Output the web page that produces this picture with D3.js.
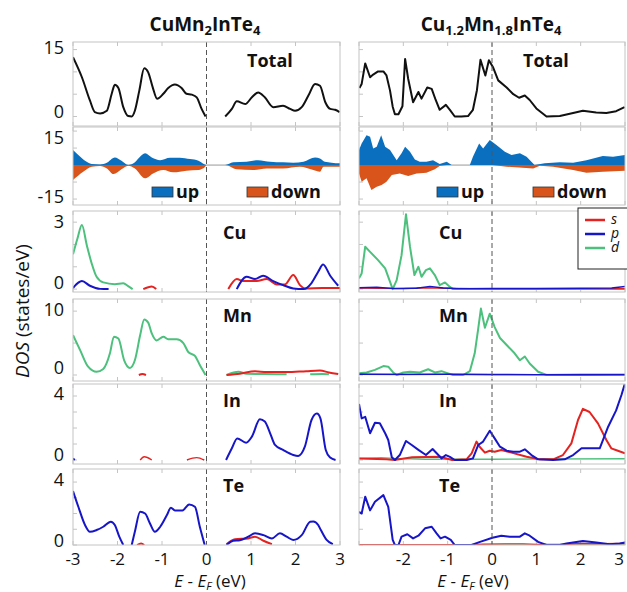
<!DOCTYPE html>
<html>
<head>
<meta charset="utf-8">
<script src="https://cdn.jsdelivr.net/npm/d3@7"></script>
<style>
  body { margin: 0; background: #fff; }
  text { font-family: 'Open Sans', 'Noto Sans', sans-serif; fill: #111; }
</style>
</head>
<body>
<svg id="fig" width="627" height="592"></svg>
<script>
// ---------- energy axis (eV, relative to E_F) ----------
const energyTicksA = [-3, -2, -1, 0, 1, 2, 3];
const energyTicksB = [-2, -1, 0, 1, 2, 3];

// ---------- compound titles: [text, subscript] ----------
const titleA = [["Cu", ""], ["Mn", "2"], ["InTe", "4"]];
const titleB = [["Cu", "1.2"], ["Mn", "1.8"], ["InTe", "4"]];

// ---------- element rows ----------
const elements = ["Cu", "Mn", "In", "Te"];

// ---------- total DOS [E, DOS] ; null marks a break ----------
const totalA = [[-3.0,13.3],[-2.8,8.8],[-2.62,3.6],[-2.51,1.0],[-2.39,0.7],[-2.24,1.3],[-2.13,5.1],[-2.06,7.1],[-1.98,6.4],[-1.87,2.1],[-1.76,0.1],[-1.68,0],[-1.61,1.3],[-1.51,5.8],[-1.40,10.8],[-1.31,9.9],[-1.21,6.6],[-1.11,4.0],[-0.97,5.1],[-0.86,6.4],[-0.71,7.2],[-0.56,6.4],[-0.45,5.1],[-0.33,4.9],[-0.22,4.3],[-0.11,1.7],[-0.02,0],[0.2,null],[0.42,0],[0.57,1.7],[0.68,3.4],[0.87,2.8],[1.02,4.3],[1.16,5.4],[1.31,4.3],[1.50,2.1],[1.72,2.4],[1.88,1.7],[1.99,1.3],[2.14,2.1],[2.29,4.7],[2.44,7.3],[2.55,6.9],[2.67,3.2],[2.78,1.7],[2.89,1.5],[2.99,1.0]];
const totalB = [[-2.99,6.4],[-2.94,7.3],[-2.86,11.9],[-2.75,8.8],[-2.68,9.4],[-2.57,10.1],[-2.45,10.1],[-2.38,9.2],[-2.30,5.8],[-2.24,2.2],[-2.19,0.5],[-2.11,0.5],[-2.02,2.3],[-1.96,12.9],[-1.89,8.4],[-1.78,3.2],[-1.66,5.5],[-1.59,4.0],[-1.46,6.5],[-1.36,6.2],[-1.27,3.7],[-1.18,1.5],[-1.04,2.6],[-0.95,1.5],[-0.84,0],[-0.69,0],[-0.54,0.1],[-0.43,1.5],[-0.34,5.9],[-0.26,12.7],[-0.15,9.2],[-0.07,12.6],[0.02,11.1],[0.14,8.1],[0.33,6.5],[0.48,5.0],[0.61,4.2],[0.74,4.7],[0.85,3.7],[1.00,1.8],[1.23,0],[1.53,0.1],[1.83,0.8],[2.05,1.3],[2.35,0.9],[2.58,0.8],[2.80,1.2],[2.99,2.1]];

// ---------- spin-resolved DOS (down stored negative) ----------
const spinUpA = [[-3.0,8.8],[-2.88,5.9],[-2.73,2.5],[-2.58,0.6],[-2.39,0.4],[-2.24,1.4],[-2.06,4.5],[-1.91,2.5],[-1.76,0],[-1.64,1.0],[-1.51,4.5],[-1.38,6.9],[-1.23,4.5],[-1.04,2.9],[-0.82,4.3],[-0.60,4.3],[-0.37,3.5],[-0.18,2.5],[-0.06,0.6],[0,0],[0.42,0],[0.60,1.6],[0.90,2.0],[1.16,2.9],[1.43,2.0],[1.72,1.6],[1.95,1.4],[2.18,2.0],[2.44,4.5],[2.55,3.9],[2.66,1.9],[2.81,1.4],[3.0,1.0]];
const spinDnA = [[-3.0,-8.8],[-2.77,-3.9],[-2.58,-1.0],[-2.39,-0.6],[-2.24,-2.0],[-2.09,-5.3],[-1.91,-2.5],[-1.76,-0.4],[-1.61,-2.0],[-1.38,-7.8],[-1.20,-4.9],[-0.97,-2.9],[-0.75,-4.3],[-0.45,-3.3],[-0.18,-2.9],[-0.03,-1.0],[0,0],[0.42,0],[0.68,-2.5],[1.05,-2.9],[1.35,-2.0],[1.72,-2.0],[2.10,-1.0],[2.40,-2.9],[2.55,-3.9],[2.63,-1.0],[3.0,-1.0]];
const spinUpB = [[-3.0,8.8],[-2.94,12.7],[-2.83,17.6],[-2.75,16.6],[-2.68,9.8],[-2.60,10.8],[-2.50,17.6],[-2.41,10.8],[-2.30,8.8],[-2.15,2.9],[-2.04,6.9],[-1.96,10.8],[-1.85,7.8],[-1.74,3.3],[-1.63,2.0],[-1.48,2.0],[-1.33,2.9],[-1.18,0.6],[-1.02,2.0],[-0.91,0],[-0.50,0],[-0.43,4.9],[-0.29,12.7],[-0.20,9.8],[-0.05,14.7],[0.10,11.8],[0.29,7.8],[0.44,5.9],[0.63,6.9],[0.78,4.9],[0.96,0],[1.19,1.0],[1.53,1.6],[1.83,1.4],[2.13,2.9],[2.50,5.3],[2.73,4.9],[3.0,5.9]];
const spinDnB = [[-3.0,-4.9],[-2.94,-9.8],[-2.83,-7.8],[-2.72,-14.7],[-2.60,-12.7],[-2.49,-11.8],[-2.38,-9.8],[-2.26,-5.9],[-2.08,-4.9],[-1.89,-6.5],[-1.70,-4.9],[-1.48,-4.5],[-1.29,-2.5],[-1.18,-0.6],[-1.02,0],[0.0,0],[0.33,-1.0],[0.93,-2.0],[1.08,-0.4],[1.38,-1.0],[1.83,-2.9],[2.13,-4.5],[2.50,-3.9],[3.0,-3.3]];

// ---------- projected DOS, CuMn2InTe4 ----------
const cuA_s = [[-1.42,0],[-1.23,0.12],[-1.13,0],[0,null],[0.49,0],[0.68,0.45],[0.83,0.36],[1.13,0.36],[1.35,0.45],[1.58,0.21],[1.76,0.21],[1.95,0.63],[2.10,0.18],[2.21,0.03],[2.6,0.05],[3,0.05]];
const cuA_p = [[-3.0,0.05],[-2.80,0.36],[-2.62,0.15],[-2.39,0.01],[-2.2,0],[0,null],[0.68,0],[0.90,0.55],[1.09,0.45],[1.27,0.6],[1.50,0.36],[1.72,0.18],[1.95,0.03],[2.18,0],[2.36,0.27],[2.51,0.78],[2.62,1.1],[2.78,0.6],[2.96,0.15]];
const cuA_d = [[-3.0,1.56],[-2.90,2.27],[-2.80,2.87],[-2.69,1.97],[-2.58,1.15],[-2.47,0.55],[-2.32,0.30],[-2.06,0.22],[-1.87,0.26],[-1.76,0.13],[-1.66,0]];
const mnA_s = [[-1.52,0],[-1.44,0.15],[-1.36,0],[0,null],[0.45,0],[0.75,0.2],[1.09,0.6],[1.35,0.45],[1.8,0.45],[2.24,0.6],[2.55,0.7],[2.75,0.4],[2.96,0.15]];
const mnA_d = [[-3.0,6.25],[-2.84,3.9],[-2.66,1.3],[-2.47,0.5],[-2.32,0.94],[-2.17,3.4],[-2.08,6.0],[-1.98,5.7],[-1.85,2.3],[-1.72,1.1],[-1.61,2.3],[-1.49,6.25],[-1.40,8.7],[-1.31,8.2],[-1.23,6.5],[-1.12,5.4],[-0.97,6.0],[-0.86,5.6],[-0.67,5.6],[-0.52,5.0],[-0.41,3.6],[-0.26,3.0],[-0.15,1.56],[-0.02,0],[0.2,null],[0.45,0],[0.72,0.5],[0.9,0.2],[1.3,0.15],[1.8,0.1],[2.0,null],[2.33,0.1],[2.6,0.15],[2.75,0.1]];
const inA_s = [[-1.49,0],[-1.40,0.2],[-1.23,0],[-1.0,null],[-0.44,0],[-0.22,0.15],[-0.05,0]];
const inA_p = [[-3.0,0.1],[-2.96,0],[0,null],[0.44,0],[0.57,0.73],[0.69,1.35],[0.89,1.08],[1.02,1.46],[1.20,2.54],[1.31,2.4],[1.43,1.67],[1.54,0.94],[1.72,0.63],[1.95,0.31],[2.06,0.25],[2.21,0.83],[2.36,2.5],[2.48,2.9],[2.56,2.6],[2.68,0.63],[2.78,0.15],[2.9,0]];
const teA_s = [[-1.56,0],[-1.47,0.1],[-1.40,0],[0,null],[0.45,0.05],[0.64,0.37],[0.94,0.42],[1.09,0.53],[1.28,0.27],[1.47,0.05]];
const teA_p = [[-3.0,3.43],[-2.88,2.43],[-2.73,1.27],[-2.62,0.84],[-2.47,0.95],[-2.32,1.16],[-2.15,1.48],[-2.06,1.27],[-1.96,0.53],[-1.87,0],[-1.78,null],[-1.68,0],[-1.61,0.84],[-1.49,2.11],[-1.38,2.0],[-1.27,1.37],[-1.16,0.84],[-1.04,1.16],[-0.89,1.9],[-0.80,2.37],[-0.71,2.2],[-0.54,2.2],[-0.39,2.58],[-0.26,2.43],[-0.15,1.16],[-0.04,0],[0.2,null],[0.45,0],[0.60,0.27],[0.75,0.3],[0.94,0.53],[1.09,0.74],[1.28,0.63],[1.47,0.42],[1.65,0.74],[1.80,0.53],[1.95,0.32],[2.14,0.63],[2.33,1.48],[2.40,1.5],[2.51,1.27],[2.57,0.95],[2.70,0.32],[2.84,0.05]];

// ---------- projected DOS, Cu1.2Mn1.8InTe4 ----------
const cuB_s = [[-3,0.05],[-2.5,0.04],[-2,0.03],[-1.5,0.06],[-1,0.04],[-0.5,0.02],[3,0.02]];
const cuB_p = [[-3,0.06],[-2.6,0.08],[-2.2,0.02],[-1.7,0.04],[-1.4,0.12],[-1.1,0.05],[-0.8,0.02],[0,0.03],[1,0.03],[2,0.04],[2.7,0.05],[3,0.12]];
const cuB_d = [[-3.0,0.48],[-2.94,0.7],[-2.86,1.9],[-2.75,1.67],[-2.57,1.3],[-2.41,0.93],[-2.24,0],[-2.15,0.4],[-2.04,1.52],[-1.94,3.35],[-1.85,1.9],[-1.75,0.63],[-1.66,1.0],[-1.59,0.55],[-1.49,0.85],[-1.40,0.93],[-1.29,0.63],[-1.18,0.18],[-1.06,0.3],[-0.95,0.1],[-0.88,0],[3.0,0]];
const mnB_s = [[-3,0.1],[-2,0.08],[-1,0.1],[0,0.06],[1.2,0.05],[3,0.04]];
const mnB_p = [[-3,0.12],[-2,0.1],[-1,0.12],[0,0.08],[1,0.06],[2,0.08],[3,0.1]];
const mnB_d = [[-3.0,0.26],[-2.83,0.4],[-2.64,0.8],[-2.45,1.4],[-2.34,1.3],[-2.23,0.4],[-2.15,0],[-2.0,0.4],[-1.85,0.5],[-1.63,0.4],[-1.44,0.9],[-1.29,0.4],[-1.14,0.6],[-0.99,0.26],[-0.88,0],[-0.65,0],[-0.50,0.6],[-0.39,3.4],[-0.31,7.3],[-0.25,10.4],[-0.16,7.4],[-0.05,9.6],[0.06,7.5],[0.18,5.8],[0.33,4.7],[0.51,3.4],[0.63,2.3],[0.74,2.9],[0.85,1.8],[1.04,0.5],[1.23,0],[3.0,0]];
const inB_s = [[-3.0,0.1],[-2.38,0.05],[-2.2,0],[-1.8,0.17],[-1.17,0.2],[-0.9,0],[-0.57,0.05],[-0.46,0.42],[-0.35,1.15],[-0.28,0.83],[-0.16,0.46],[-0.05,0.58],[0.06,0.52],[0.21,0.63],[0.44,0.46],[0.78,0.2],[1.08,0.04],[1.38,0.04],[1.60,0.31],[1.79,1.04],[1.94,2.5],[2.05,3.2],[2.20,3.0],[2.39,2.29],[2.58,1.25],[2.69,0.73],[2.84,0.58],[3.0,0.42]];
const inB_p = [[-3.0,3.5],[-2.94,2.6],[-2.86,2.7],[-2.75,1.67],[-2.64,2.33],[-2.53,2.3],[-2.41,1.67],[-2.34,1.25],[-2.26,0.17],[-2.19,0],[-2.08,0.31],[-1.94,1.19],[-1.81,0.94],[-1.66,0.63],[-1.49,0.31],[-1.34,0.69],[-1.21,0.31],[-1.14,0.1],[-1.04,0.31],[-0.95,0.2],[-0.84,0],[-0.57,0],[-0.43,0.1],[-0.31,0.94],[-0.20,1.15],[-0.05,1.83],[0.06,1.35],[0.18,0.83],[0.33,0.58],[0.48,0.52],[0.63,0.52],[0.74,0.67],[0.89,0.31],[1.04,0.04],[1.38,0],[1.64,0.04],[1.83,0.31],[2.02,0.73],[2.43,0.73],[2.62,2.08],[2.80,3.1],[2.92,4.06],[3.0,4.8]];
const inB_d = [[-3,0.1],[-2.5,0.15],[-2.2,0.1],[-1.5,0.05],[0,0.05],[3,0.08]];
const teB_s = [[-3,0.02],[-0.5,0.02],[-0.2,0.05],[0.3,0.07],[0.7,0.07],[1.0,0.04],[1.6,0.03],[2.0,0.1],[2.4,0.08],[3,0.1]];
const teB_p = [[-3.0,2.1],[-2.94,2.0],[-2.86,3.07],[-2.75,2.2],[-2.64,2.75],[-2.45,3.17],[-2.34,2.43],[-2.24,0.32],[-2.19,0],[-2.11,0],[-2.04,0.53],[-1.91,0.68],[-1.78,0.42],[-1.66,0.59],[-1.51,1.06],[-1.36,1.16],[-1.25,0.74],[-1.16,0.42],[-1.06,0.53],[-0.93,0.32],[-0.84,0],[-0.46,0],[-0.27,0.2],[0.01,0.46],[0.21,0.59],[0.40,0.53],[0.63,0.53],[0.74,0.74],[0.85,0.59],[1.04,0.2],[1.23,0],[1.53,0],[1.68,0.1],[2.05,0.25],[2.35,0.16],[2.65,0.05],[2.88,0.1],[3.0,0.16]];
const teB_d = [[-3,0.01],[3,0.01]];

// ---------- legend entries ----------
const spinLabels = ["up", "down"];
const orbitals = ["s", "p", "d"];

// ---------- styling ----------
const orbitalColor = { s: "#e42320", p: "#1616c8", d: "#4cc07c" };
const spinColor = { up: "#0b6fbf", down: "#d9541a" };
const frameColor = "#c4c4c4";

// ---------- layout ----------
const columns = [
  { x0: 73, x1: 340, title: titleA, titleX: 205, ticks: energyTicksA, xlabelX: 210, curve: d3.curveMonotoneX,
    total: totalA, up: spinUpA, down: spinDnA,
    pdos: { Cu: { s: cuA_s, p: cuA_p, d: cuA_d }, Mn: { s: mnA_s, d: mnA_d }, In: { s: inA_s, p: inA_p }, Te: { s: teA_s, p: teA_p } },
    labelX: 223, totalX: 247, legUp: 152, legDown: 247 },
  { x0: 359, x1: 625, title: titleB, titleX: 491, ticks: energyTicksB, xlabelX: 473, curve: d3.curveLinear,
    total: totalB, up: spinUpB, down: spinDnB,
    pdos: { Cu: { s: cuB_s, p: cuB_p, d: cuB_d }, Mn: { s: mnB_s, p: mnB_p, d: mnB_d }, In: { s: inB_s, p: inB_p, d: inB_d }, Te: { s: teB_s, p: teB_p, d: teB_d } },
    labelX: 439, totalX: 523, legUp: 437, legDown: 533 }
];

// rows: pixel extent, value domain, labelled ticks, nudges for those labels, label baseline
const rows = [
  { key: "Total", top: 42,  bottom: 126, domain: [-2.13, 16.7], ticks: [0, 15],   nudge: [-4.5, -1.5], labelY: 67 },
  { key: "spin",  top: 127, bottom: 205, domain: [-23.5, 22.4], ticks: [-15, 15], nudge: [6, -2] },
  { key: "Cu",    top: 211, bottom: 292, domain: [-0.13, 3.5],  ticks: [0, 3],    nudge: [-6, 0],  labelY: 239 },
  { key: "Mn",    top: 299, bottom: 381, domain: [-0.94, 11.9], ticks: [0, 10],   nudge: [-7, -1], labelY: 322 },
  { key: "In",    top: 384, bottom: 464, domain: [-0.25, 4.75], ticks: [0, 4],    nudge: [-5, -2], labelY: 407 },
  { key: "Te",    top: 469, bottom: 545, domain: [0, 4.83],     ticks: [0, 4],    nudge: [-4, -2], labelY: 492 }
];

const svg = d3.select("#fig");
const defs = svg.append("defs");
let clipId = 0;

columns.forEach((col, ci) => {
  const x = d3.scaleLinear().domain([-3, 3]).range([col.x0, col.x1]);

  // compound title with subscripts
  const t = svg.append("text").attr("x", col.titleX).attr("y", 31)
    .attr("text-anchor", "middle").attr("font-size", 19).attr("font-weight", "bold");
  col.title.forEach(([main, sub], k) => {
    t.append("tspan").attr("dy", k > 0 && col.title[k - 1][1] ? -4 : 0).text(main);
    if (sub) t.append("tspan").attr("font-size", 13).attr("dy", 4).text(sub);
  });

  rows.forEach((row, ri) => {
    const y = d3.scaleLinear().domain(row.domain).range([row.bottom, row.top]);
    const g = svg.append("g");
    const cid = "clip" + (clipId++);
    defs.append("clipPath").attr("id", cid).append("rect")
      .attr("x", col.x0).attr("y", row.top).attr("width", col.x1 - col.x0).attr("height", row.bottom - row.top);

    // faint inward ticks
    col.ticks.concat(ci === 1 ? [-3] : []).forEach(e => {
      g.append("line").attr("x1", x(e)).attr("x2", x(e)).attr("y1", row.top).attr("y2", row.top + 4)
        .attr("stroke", frameColor).attr("stroke-width", 1);
      g.append("line").attr("x1", x(e)).attr("x2", x(e)).attr("y1", row.bottom).attr("y2", row.bottom - 4)
        .attr("stroke", frameColor).attr("stroke-width", 1);
    });
    y.ticks(4).forEach(v => {
      g.append("line").attr("x1", col.x0).attr("x2", col.x0 + 4).attr("y1", y(v)).attr("y2", y(v))
        .attr("stroke", frameColor).attr("stroke-width", 1);
    });

    const plot = g.append("g").attr("clip-path", `url(#${cid})`);

    if (row.key === "Total") {
      plot.append("path").datum(col.total)
        .attr("d", d3.line().defined(d => d[1] != null).x(d => x(d[0])).y(d => y(d[1])).curve(col.curve))
        .attr("fill", "none").attr("stroke", "#111").attr("stroke-width", 2).attr("stroke-linejoin", "round");
    } else if (row.key === "spin") {
      plot.append("line").attr("x1", col.x0).attr("x2", col.x1).attr("y1", y(0)).attr("y2", y(0))
        .attr("stroke", "#999").attr("stroke-width", 1);
      [["up", col.up], ["down", col.down]].forEach(([k, arr]) => {
        plot.append("path").datum(arr)
          .attr("d", d3.area().x(d => x(d[0])).y0(y(0)).y1(d => y(d[1])).curve(col.curve))
          .attr("fill", spinColor[k]);
      });
    } else {
      const set = col.pdos[row.key];
      ["d", "s", "p"].forEach(o => {
        const arr = set[o];
        if (!arr) return;
        const peak = d3.max(arr, d => d[1]);
        plot.append("path").datum(arr)
          .attr("d", d3.line().defined(d => d[1] != null).x(d => x(d[0])).y(d => y(d[1])).curve(col.curve))
          .attr("fill", "none").attr("stroke", orbitalColor[o])
          .attr("stroke-width", peak < 0.3 ? 1.4 : 2).attr("stroke-linejoin", "round");
      });
    }

    // Fermi level marker
    g.append("line").attr("x1", x(0)).attr("x2", x(0)).attr("y1", row.top).attr("y2", row.bottom)
      .attr("stroke", "#555").attr("stroke-width", 1).attr("stroke-dasharray", "5,3");

    // frame
    g.append("rect").attr("x", col.x0).attr("y", row.top)
      .attr("width", col.x1 - col.x0).attr("height", row.bottom - row.top)
      .attr("fill", "none").attr("stroke", frameColor).attr("stroke-width", 1);

    // y tick labels on the left column only
    if (ci === 0) {
      row.ticks.forEach((v, k) => {
        svg.append("text").attr("x", 64).attr("y", y(v) + row.nudge[k])
          .attr("dy", "0.35em").attr("text-anchor", "end").attr("font-size", 18).text(v);
      });
    }

    // panel label
    if (row.key === "Total") {
      svg.append("text").attr("x", col.totalX).attr("y", row.labelY)
        .attr("font-size", 18).attr("font-weight", "bold").text("Total");
    } else if (row.key !== "spin") {
      svg.append("text").attr("x", col.labelX).attr("y", row.labelY)
        .attr("font-size", 18).attr("font-weight", "bold").text(row.key);
    }

    // spin legend
    if (row.key === "spin") {
      [[spinLabels[0], col.legUp, spinColor.up], [spinLabels[1], col.legDown, spinColor.down]].forEach(([lab, lx, c]) => {
        svg.append("rect").attr("x", lx).attr("y", 187).attr("width", 21).attr("height", 10)
          .attr("fill", c).attr("stroke", "#333").attr("stroke-width", 0.8);
        svg.append("text").attr("x", lx + 24).attr("y", 198)
          .attr("font-size", 18).attr("font-weight", "bold").text(lab);
      });
    }

    // energy axis labels on the bottom row
    if (ri === rows.length - 1) {
      col.ticks.forEach(e => {
        svg.append("text").attr("x", Math.min(x(e), 619)).attr("y", 565).attr("text-anchor", "middle")
          .attr("font-size", 17).text(e);
      });
      const xl = svg.append("text").attr("x", col.xlabelX).attr("y", 587)
        .attr("text-anchor", "middle").attr("font-size", 17);
      xl.append("tspan").attr("font-style", "italic").text("E");
      xl.append("tspan").text(" - ");
      xl.append("tspan").attr("font-style", "italic").text("E");
      xl.append("tspan").attr("font-style", "italic").attr("font-size", 11).attr("dy", 3).text("F");
      xl.append("tspan").attr("dy", -3).text(" (eV)");
    }
  });
});

// orbital legend
const leg = svg.append("g");
leg.append("rect").attr("x", 578).attr("y", 208).attr("width", 60).attr("height", 61)
  .attr("fill", "#fff").attr("stroke", "#222").attr("stroke-width", 1);
orbitals.forEach((o, i) => {
  const ly = 220 + i * 14;
  leg.append("line").attr("x1", 585).attr("x2", 605).attr("y1", ly).attr("y2", ly)
    .attr("stroke", orbitalColor[o]).attr("stroke-width", 2.5);
  leg.append("text").attr("x", 611).attr("y", ly + 4).attr("font-size", 14)
    .attr("font-style", "italic").text(o);
});

// DOS axis title
const yl = svg.append("text").attr("transform", "translate(29,311) rotate(-90)")
  .attr("text-anchor", "middle").attr("font-size", 19);
yl.append("tspan").attr("font-style", "italic").text("DOS");
yl.append("tspan").text(" (states/eV)");
</script>
</body>
</html>
